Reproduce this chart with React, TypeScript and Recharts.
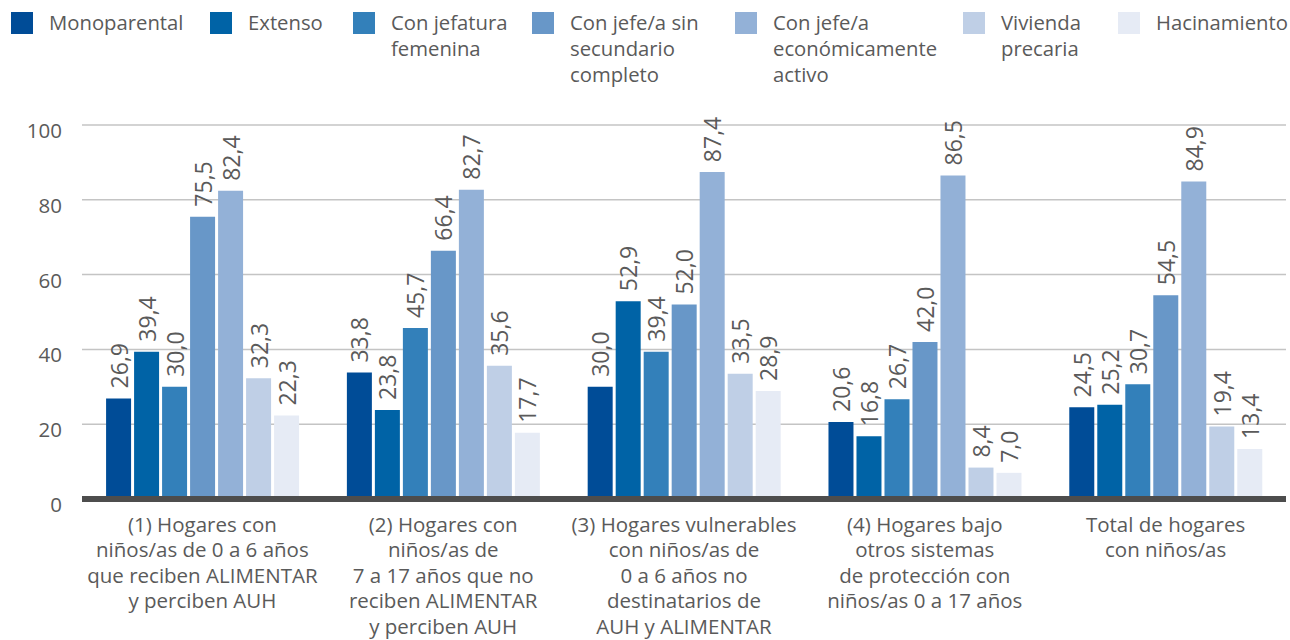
import React from 'react';
import { BarChart, Bar, XAxis, YAxis, CartesianGrid, LabelList } from 'recharts';

const categories = [
  '(1) Hogares con\nniños/as de 0 a 6 años\nque reciben ALIMENTAR\ny perciben AUH',
  '(2) Hogares con\nniños/as de\n7 a 17 años que no\nreciben ALIMENTAR\ny perciben AUH',
  '(3) Hogares vulnerables\ncon niños/as de\n0 a 6 años no\ndestinatarios de\nAUH y ALIMENTAR',
  '(4) Hogares bajo\notros sistemas\nde protección con\nniños/as 0 a 17 años',
  'Total de hogares\ncon niños/as',
];

const seriesNames = [
  'Monoparental',
  'Extenso',
  'Con jefatura\nfemenina',
  'Con jefe/a sin\nsecundario\ncompleto',
  'Con jefe/a\neconómicamente\nactivo',
  'Vivienda\nprecaria',
  'Hacinamiento',
];

const monoparental = [26.9, 33.8, 30.0, 20.6, 24.5];
const extenso = [39.4, 23.8, 52.9, 16.8, 25.2];
const jefaturaFemenina = [30.0, 45.7, 39.4, 26.7, 30.7];
const sinSecundario = [75.5, 66.4, 52.0, 42.0, 54.5];
const economicamenteActivo = [82.4, 82.7, 87.4, 86.5, 84.9];
const viviendaPrecaria = [32.3, 35.6, 33.5, 8.4, 19.4];
const hacinamiento = [22.3, 17.7, 28.9, 7.0, 13.4];

const yTicks = [0, 20, 40, 60, 80, 100];

const colors = ['#004c97', '#0063a6', '#3380ba', '#6897c8', '#93b1d7', '#bfcfe6', '#e6ebf5'];
const seriesValues = [
  monoparental,
  extenso,
  jefaturaFemenina,
  sinSecundario,
  economicamenteActivo,
  viviendaPrecaria,
  hacinamiento,
];

const data = categories.map((c, i) => {
  const row: any = { name: c };
  seriesValues.forEach((vals, s) => {
    row['s' + s] = vals[i];
  });
  return row;
});

const FONT = '"Open Sans", sans-serif';
const TEXT = '#5a5a5a';

const fmt = (v: number) => v.toFixed(1).replace('.', ',');

const ValueLabel = (props: any) => {
  const { x, y, width, value } = props;
  const cx = x + width / 2;
  const ty = y - 10;
  return (
    <text
      x={cx}
      y={ty}
      transform={`rotate(-90, ${cx}, ${ty})`}
      textAnchor="start"
      dominantBaseline="central"
      fill={TEXT}
      fontSize={23}
      fontFamily={FONT}
    >
      {fmt(value)}
    </text>
  );
};

const YTick = (props: any) => {
  const { x, y, payload } = props;
  return (
    <text x={x} y={y} dy={13} textAnchor="end" fill={TEXT} fontSize={20.5} fontFamily={FONT}>
      {payload.value}
    </text>
  );
};

const CategoryTick = (props: any) => {
  const { x, y, payload } = props;
  const lines = String(payload.value).split('\n');
  return (
    <text x={x} y={y} textAnchor="middle" fill={TEXT} fontSize={20.5} fontFamily={FONT}>
      {lines.map((l, i) => (
        <tspan key={i} x={x} dy={i === 0 ? 33 : 25.4}>
          {l}
        </tspan>
      ))}
    </text>
  );
};

const legendX = [11, 210, 353, 532, 735, 963, 1118];

const Legend = () => (
  <div style={{ position: 'absolute', left: 0, top: 0, width: 1290, height: 100 }}>
    {seriesNames.map((n, i) => (
      <div key={n} style={{ position: 'absolute', left: legendX[i], top: 11 }}>
        <div style={{ position: 'absolute', left: 0, top: 1, width: 22, height: 22, background: colors[i] }} />
        <div
          style={{
            position: 'absolute',
            left: 38,
            top: 0,
            whiteSpace: 'pre',
            fontFamily: FONT,
            fontSize: 20.3,
            lineHeight: '26px',
            color: TEXT,
            marginTop: -2,
          }}
        >
          {n}
        </div>
      </div>
    ))}
  </div>
);

export default function App() {
  return (
    <div style={{ position: 'absolute', left: 0, top: 0, width: 1290, height: 640, background: '#fff' }}>
      <Legend />
      <BarChart
        width={1290}
        height={640}
        data={data}
        margin={{ top: 125, right: 4, bottom: 0, left: 0 }}
        barCategoryGap="10%"
        barGap={3}
      >
        <CartesianGrid vertical={false} stroke="#c4c4c4" strokeWidth={1.5} />
        <YAxis
          width={82}
          domain={[0, 100]}
          ticks={yTicks}
          axisLine={false}
          tickLine={false}
          tickSize={0}
          tickMargin={20}
          tick={<YTick />}
        />
        <XAxis
          dataKey="name"
          height={141}
          axisLine={{ stroke: '#4d4d4d', strokeWidth: 6 }}
          tickLine={false}
          tickSize={0}
          tickMargin={0}
          interval={0}
          tick={<CategoryTick />}
        />
        {seriesValues.map((_, s) => (
          <Bar key={s} dataKey={'s' + s} fill={colors[s]} isAnimationActive={false}>
            <LabelList dataKey={'s' + s} content={<ValueLabel />} />
          </Bar>
        ))}
      </BarChart>
    </div>
  );
}
